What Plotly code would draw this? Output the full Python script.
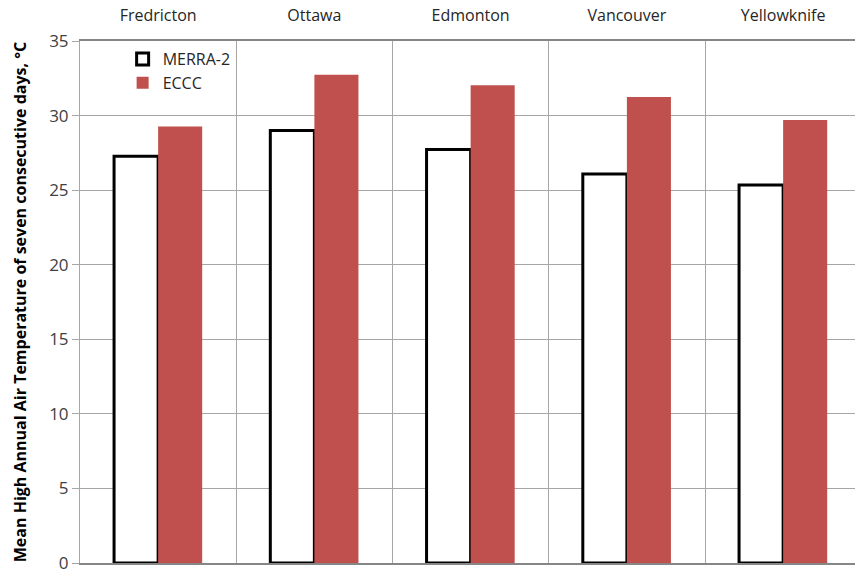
import plotly.graph_objects as go

cities = ["Fredricton", "Ottawa", "Edmonton", "Vancouver", "Yellowknife"]
merra2 = [27.27, 29.0, 27.73, 26.09, 25.35]
eccc = [29.27, 32.73, 32.04, 31.24, 29.71]

fig = go.Figure()
fig.add_trace(go.Bar(
    x=cities, y=merra2, name="MERRA-2",
    marker=dict(color="white", line=dict(color="black", width=3)),
))
fig.add_trace(go.Bar(
    x=cities, y=eccc, name="ECCC",
    marker=dict(color="#C0504D", line=dict(width=0)),
))

fig.update_layout(
    width=855, height=573,
    margin=dict(l=80, r=0, t=41, b=10, autoexpand=False),
    paper_bgcolor="white", plot_bgcolor="white",
    barmode="group", bargap=0.436, bargroupgap=0,
    font=dict(family="Open Sans", size=15, color="#262626"),
    showlegend=True,
    legend=dict(
        x=0.055, y=0.998, xanchor="left", yanchor="top",
        bgcolor="rgba(0,0,0,0)", font=dict(size=16, color="#262626"),
        itemwidth=30, tracegroupgap=2,
    ),
    xaxis=dict(
        side="top", type="category",
        range=[-0.5, 4.46],
        showline=True, linecolor="#868686", linewidth=2, mirror=True,
        showgrid=True, gridcolor="#A6A6A6", gridwidth=1,
        tickson="boundaries", ticks="",
        ticklabelstandoff=12,
        tickfont=dict(size=16, color="#262626"),
    ),
    yaxis=dict(
        range=[0, 35], dtick=5,
        showline=True, linecolor="#A6A6A6", linewidth=1,
        showgrid=True, gridcolor="#A6A6A6", gridwidth=1,
        ticks="outside", ticklen=7, tickcolor="#A6A6A6",
        ticklabeloverflow="allow",
        tickfont=dict(size=17, color="#404040"),
        zeroline=False,
        title=dict(
            text="<b>Mean High Annual Air Temperature of seven consecutive days, °C</b>",
            font=dict(size=16, color="#000000"), standoff=18,
        ),
    ),
)

fig.write_html("out.html")
